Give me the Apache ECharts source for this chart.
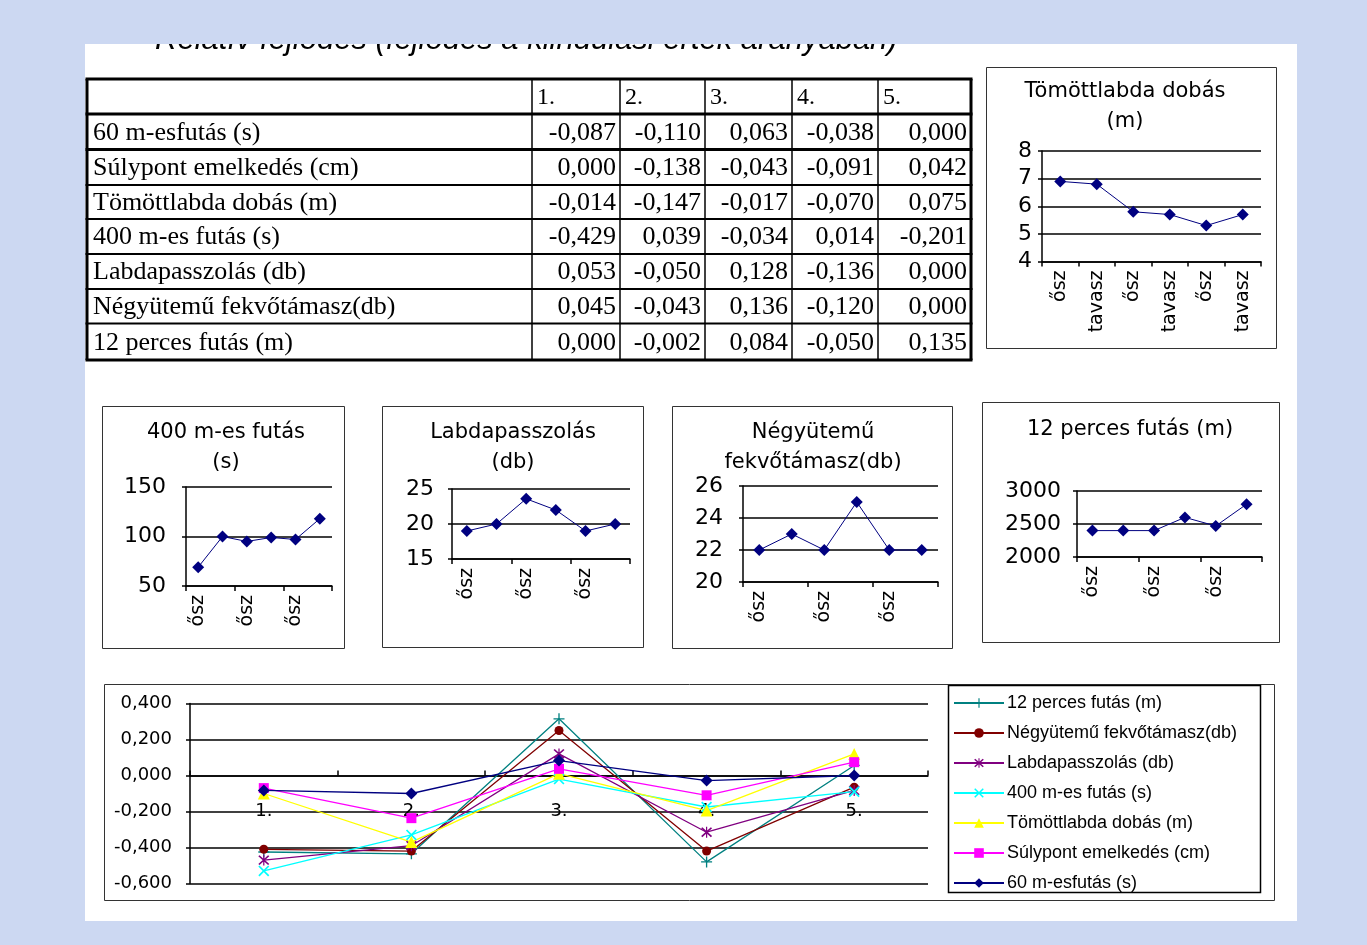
<!DOCTYPE html>
<html>
<head>
<meta charset="utf-8">
<script src="https://cdn.jsdelivr.net/npm/echarts@6/dist/echarts.min.js"></script>
<style>
  html, body { margin: 0; padding: 0; background: #ccd8f2; }
  #chart { width: 1367px; height: 945px; }
</style>
</head>
<body>
<div id="chart"></div>
<script>
// ---- Táblázat: relatív fejlődés (fejlődés a kiindulási érték arányában) ----
const measureCols = ['1.', '2.', '3.', '4.', '5.'];
const rowNames = [
  '60 m-esfutás (s)',
  'Súlypont emelkedés (cm)',
  'Tömöttlabda dobás (m)',
  '400 m-es futás (s)',
  'Labdapasszolás (db)',
  'Négyütemű fekvőtámasz(db)',
  '12 perces futás (m)'
];
const row60m       = [-0.087, -0.110,  0.063, -0.038,  0.000];
const rowSulypont  = [ 0.000, -0.138, -0.043, -0.091,  0.042];
const rowTomott    = [-0.014, -0.147, -0.017, -0.070,  0.075];
const row400m      = [-0.429,  0.039, -0.034,  0.014, -0.201];
const rowLabda     = [ 0.053, -0.050,  0.128, -0.136,  0.000];
const rowNegyutemu = [ 0.045, -0.043,  0.136, -0.120,  0.000];
const row12perces  = [ 0.000, -0.002,  0.084, -0.050,  0.135];
const tableRows = [row60m, rowSulypont, rowTomott, row400m, rowLabda, rowNegyutemu, row12perces];

// ---- Kis grafikonok: mérések évszakonként ----
const seasons = ['ősz', 'tavasz', 'ősz', 'tavasz', 'ősz', 'tavasz'];
const tomottValues   = [6.9, 6.8, 5.8, 5.7, 5.3, 5.7];
const futas400Values = [69, 100, 95, 99, 97, 118];
const labdaValues    = [19, 20, 23.6, 22, 19, 20];
const negyValues     = [22, 23, 22, 25, 22, 22];
const perces12Values = [2400, 2400, 2400, 2600, 2470, 2800];
// tengely: [min, max, lépésköz]
const tomottAxis   = [4, 8, 1];
const futas400Axis = [50, 150, 50];
const labdaAxis    = [15, 25, 5];
const negyAxis     = [20, 26, 2];
const perces12Axis = [2000, 3000, 500];

// ---- Összesítő grafikon ----
const relCategories  = ['1.', '2.', '3.', '4.', '5.'];
const rel12perces    = [-0.425, -0.435, 0.315, -0.480,  0.056];
const relNegyutemu   = [-0.410, -0.420, 0.250, -0.420, -0.065];
const relLabdapassz  = [-0.470, -0.390, 0.120, -0.315, -0.083];
const rel400m        = [-0.530, -0.330, -0.020, -0.175, -0.090];
const relTomott      = [-0.100, -0.370, 0.010, -0.195,  0.120];
const relSulypont    = [-0.070, -0.237, 0.037, -0.110,  0.074];
const rel60m         = [-0.083, -0.100, 0.083, -0.028,  0.000];
const relAxis        = [-0.6, 0.4, 0.2];

const fmtComma = v => v.toFixed(3).replace('.', ',');

// ---- Elrendezés ----
const SANS = "'DejaVu Sans', sans-serif";
const SERIF = "'Liberation Serif', serif";
const colX = [87, 532, 620, 705, 792, 878, 971];
const rowY = [79, 114, 149.5, 185, 219, 254, 289, 323.5, 360];

const graphics = [];
// fehér lap
graphics.push({ type: 'rect', z: -1, shape: { x: 85, y: 44, width: 1212, height: 877 }, style: { fill: '#ffffff' } });
// főcím (a lap teteje levágja)
graphics.push({ type: 'text', z: 4, x: 155, y: 56,
  style: { text: 'Relatív fejlődés (fejlődés a kiindulási érték arányában)', font: "italic 31px 'Liberation Sans', sans-serif",
    fill: '#000', textAlign: 'left', align: 'left', textVerticalAlign: 'bottom', verticalAlign: 'bottom' } });
graphics.push({ type: 'rect', z: 5, shape: { x: 0, y: 0, width: 1367, height: 44 }, style: { fill: '#ccd8f2' } });

// táblázat vonalai
function hline(y, x1, x2, w) {
  graphics.push({ type: 'line', z: 3, shape: { x1, y1: y, x2, y2: y }, style: { stroke: '#000', lineWidth: w } });
}
function vline(x, y1, y2, w) {
  graphics.push({ type: 'line', z: 3, shape: { x1: x, y1, x2: x, y2 }, style: { stroke: '#000', lineWidth: w } });
}
rowY.forEach((y, i) => {
  const w = (i === 0 || i === rowY.length - 1 || i === 1 || i === 2) ? 3 : 2;
  hline(y, colX[0] - 1.5, colX[colX.length - 1] + 1.5, w);
});
colX.forEach((x, i) => {
  const w = (i === 0 || i === colX.length - 1) ? 3 : 1.5;
  vline(x, rowY[0], rowY[rowY.length - 1], w);
});
// fejléc
measureCols.forEach((c, j) => {
  graphics.push({ type: 'text', z: 3, x: colX[j + 1] + 5, y: (rowY[0] + rowY[1]) / 2 + 1,
    style: { text: c, font: '24px ' + SERIF, fill: '#000', textAlign: 'left', align: 'left',
      textVerticalAlign: 'middle', verticalAlign: 'middle' } });
});
// sorok
rowNames.forEach((name, i) => {
  const cy = (rowY[i + 1] + rowY[i + 2]) / 2 + 1;
  graphics.push({ type: 'text', z: 3, x: colX[0] + 6, y: cy,
    style: { text: name, font: '26px ' + SERIF, fill: '#000', textAlign: 'left', align: 'left',
      textVerticalAlign: 'middle', verticalAlign: 'middle' } });
  tableRows[i].forEach((v, j) => {
    graphics.push({ type: 'text', z: 3, x: colX[j + 2] - 4, y: cy,
      style: { text: fmtComma(v), font: '26px ' + SERIF, fill: '#000', textAlign: 'right', align: 'right',
        textVerticalAlign: 'middle', verticalAlign: 'middle' } });
  });
});

// kis grafikonok
const smallPanels = [
  { name: 'Tömöttlabda dobás', title: 'Tömöttlabda dobás\n(m)', data: tomottValues, axis: tomottAxis, labelInterval: 0,
    box: [986, 67, 290, 281], titleXY: [1125, 106.5], grid: [1042, 151, 219, 110.5], yMargin: 10 },
  { name: '400 m-es futás', title: '400 m-es futás\n(s)', data: futas400Values, axis: futas400Axis, labelInterval: 1,
    box: [102, 406, 242, 242], titleXY: [226, 448], grid: [186, 487, 146, 99], yMargin: 20 },
  { name: 'Labdapasszolás', title: 'Labdapasszolás\n(db)', data: labdaValues, axis: labdaAxis, labelInterval: 1,
    box: [382, 406, 261, 241], titleXY: [513, 448], grid: [452, 489, 178, 70], yMargin: 18 },
  { name: 'Négyütemű fekvőtámasz', title: 'Négyütemű\nfekvőtámasz(db)', data: negyValues, axis: negyAxis, labelInterval: 1,
    box: [672, 406, 280, 242], titleXY: [813, 448], grid: [743, 486, 195, 96], yMargin: 20 },
  { name: '12 perces futás', title: '12 perces futás (m)', data: perces12Values, axis: perces12Axis, labelInterval: 1,
    box: [982, 402, 297, 240], titleXY: [1130, 430], grid: [1077, 491, 185, 66], yMargin: 16 }
];

const grids = [], xAxes = [], yAxes = [], series = [];
smallPanels.forEach((p, i) => {
  graphics.push({ type: 'rect', z: 1, shape: { x: p.box[0] + 0.5, y: p.box[1] + 0.5, width: p.box[2], height: p.box[3] },
    style: { fill: 'none', stroke: '#333', lineWidth: 1 } });
  graphics.push({ type: 'text', z: 3, x: p.titleXY[0], y: p.titleXY[1],
    style: { text: p.title, font: '21px ' + SANS, fill: '#000', lineHeight: 30, textAlign: 'center', align: 'center',
      textVerticalAlign: 'middle', verticalAlign: 'middle' } });
  grids.push({ left: p.grid[0], top: p.grid[1], width: p.grid[2], height: p.grid[3], outerBoundsMode: 'none' });
  xAxes.push({ type: 'category', gridIndex: i, data: seasons, boundaryGap: true,
    axisLine: { show: true, onZero: false, lineStyle: { color: '#000', width: 1.5 } },
    axisTick: { show: true, inside: false, length: 5, lineStyle: { color: '#000', width: 1.5 } },
    axisLabel: { interval: p.labelInterval, rotate: 90, margin: 9, color: '#000', fontFamily: SANS, fontSize: 19 },
    splitLine: { show: false } });
  yAxes.push({ type: 'value', gridIndex: i, min: p.axis[0], max: p.axis[1], interval: p.axis[2],
    axisLine: { show: true, lineStyle: { color: '#000', width: 1.5 } },
    axisTick: { show: true, length: 4, lineStyle: { color: '#000', width: 1.5 } },
    axisLabel: { margin: p.yMargin, color: '#000', fontFamily: SANS, fontSize: 22, formatter: v => String(v) },
    splitLine: { show: true, lineStyle: { color: '#000', width: 1.5 } } });
  series.push({ type: 'line', name: p.name, xAxisIndex: i, yAxisIndex: i, data: p.data,
    symbol: 'diamond', symbolSize: 12, showAllSymbol: true,
    lineStyle: { color: '#000080', width: 1 }, itemStyle: { color: '#000080' } });
});

// összesítő grafikon
const bigIdx = smallPanels.length;
const bigGrid = { left: 190, top: 703.5, width: 738, height: 180 };
// a kategóriatengely a 0 értéknél fut
const zeroOffset = -(0 - relAxis[0]) / (relAxis[1] - relAxis[0]) * bigGrid.height;
graphics.push({ type: 'rect', z: 1, shape: { x: 104.5, y: 684.5, width: 1170, height: 216 },
  style: { fill: 'none', stroke: '#333', lineWidth: 1 } });
graphics.push({ type: 'rect', z: 1, shape: { x: 948.5, y: 685.5, width: 312, height: 207 },
  style: { fill: 'none', stroke: '#000', lineWidth: 1.5 } });
grids.push(Object.assign({ outerBoundsMode: 'none' }, bigGrid));
xAxes.push({ type: 'category', gridIndex: bigIdx, data: relCategories, boundaryGap: true,
  position: 'bottom', offset: zeroOffset,
  axisLine: { show: true, onZero: false, lineStyle: { color: '#000', width: 1.5 } },
  axisTick: { show: true, inside: true, length: 5, lineStyle: { color: '#000', width: 1.5 } },
  axisLabel: { margin: 27, color: '#000', fontFamily: SANS, fontSize: 18 },
  splitLine: { show: false } });
yAxes.push({ type: 'value', gridIndex: bigIdx, min: relAxis[0], max: relAxis[1], interval: relAxis[2],
  axisLine: { show: true, lineStyle: { color: '#000', width: 1.5 } },
  axisTick: { show: true, length: 4, lineStyle: { color: '#000', width: 1.5 } },
  axisLabel: { margin: 18, color: '#000', fontFamily: SANS, fontSize: 18, formatter: v => fmtComma(v) },
  splitLine: { show: true, lineStyle: { color: '#000', width: 1.5 } } });

const plusPath = 'path://M4.4,0 H5.6 V4.4 H10 V5.6 H5.6 V10 H4.4 V5.6 H0 V4.4 H4.4 Z';
const xPath = 'path://M0.5,1.5 L1.5,0.5 L9.5,8.5 L8.5,9.5 Z M8.5,0.5 L9.5,1.5 L1.5,9.5 L0.5,8.5 Z';
const starPath = 'path://M4.5,0 H5.5 V10 H4.5 Z M0.5,1.5 L1.5,0.5 L9.5,8.5 L8.5,9.5 Z M8.5,0.5 L9.5,1.5 L1.5,9.5 L0.5,8.5 Z';

const bigSeries = [
  { name: '12 perces futás (m)',        data: rel12perces,   color: '#008080', symbol: plusPath, size: 11 },
  { name: 'Négyütemű fekvőtámasz(db)',  data: relNegyutemu,  color: '#800000', symbol: 'circle', size: 9 },
  { name: 'Labdapasszolás (db)',        data: relLabdapassz, color: '#800080', symbol: starPath, size: 11 },
  { name: '400 m-es futás (s)',         data: rel400m,       color: '#00ffff', symbol: xPath, size: 11 },
  { name: 'Tömöttlabda dobás (m)',      data: relTomott,     color: '#ffff00', symbol: 'triangle', size: 12 },
  { name: 'Súlypont emelkedés (cm)',    data: relSulypont,   color: '#ff00ff', symbol: 'rect', size: 10 },
  { name: '60 m-esfutás (s)',           data: rel60m,        color: '#000080', symbol: 'diamond', size: 12 }
];
bigSeries.forEach(s => {
  series.push({ type: 'line', name: s.name, xAxisIndex: bigIdx, yAxisIndex: bigIdx, data: s.data,
    symbol: s.symbol, symbolSize: s.size, showAllSymbol: true,
    lineStyle: { color: s.color, width: 1.3 }, itemStyle: { color: s.color } });
});

const chart = echarts.init(document.getElementById('chart'), null, { renderer: 'canvas' });
chart.setOption({
  backgroundColor: '#ccd8f2',
  animation: false,
  grid: grids,
  xAxis: xAxes,
  yAxis: yAxes,
  series: series,
  legend: {
    data: bigSeries.map(s => s.name),
    orient: 'vertical', left: 953, top: 694,
    itemWidth: 50, itemHeight: 12, itemGap: 12,
    padding: 0, selectedMode: false,
    textStyle: { color: '#000', fontFamily: "'Liberation Sans', sans-serif", fontSize: 18, lineHeight: 18, padding: [0, 0, 0, -2] }
  },
  graphic: { elements: graphics }
});
</script>
</body>
</html>
